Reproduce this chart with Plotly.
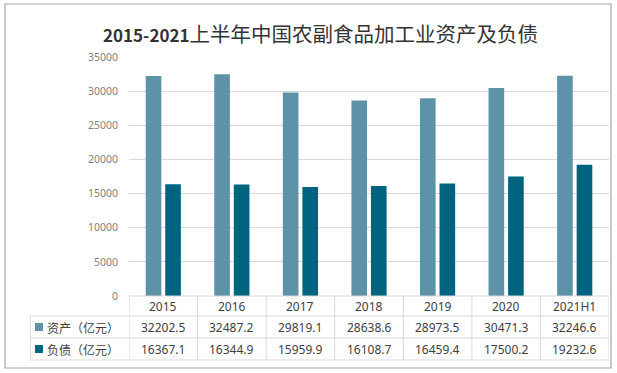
import plotly.graph_objects as go

categories = ["2015", "2016", "2017", "2018", "2019", "2020", "2021H1"]
assets = [32202.5, 32487.2, 29819.1, 28638.6, 28973.5, 30471.3, 32246.6]
liabilities = [16367.1, 16344.9, 15959.9, 16108.7, 16459.4, 17500.2, 19232.6]
series_names = ["资产（亿元）", "负债（亿元）"]
title_years = "2015-2021"
title_rest = "上半年中国农副食品加工业资产及负债"
y_ticks = [0, 5000, 10000, 15000, 20000, 25000, 30000, 35000]

W, H = 617, 373
L, R, T, B = 129, 8, 57, 77
PW, PH = W - L - R, H - T - B
C_ASSET = "#5E92A9"
C_LIAB = "#00637F"
GRID = "#D9D9D9"
TXT = "#404040"


def px_x(px):
    return (px - L) / PW


def px_y(py):
    return (T + PH - py) / PH


fig = go.Figure()
fig.add_trace(go.Bar(x=categories, y=assets, name=series_names[0],
                     marker_color=C_ASSET, marker_line_width=0))
fig.add_trace(go.Bar(x=categories, y=liabilities, name=series_names[1],
                     marker_color=C_LIAB, marker_line_width=0))

shapes = []
# outer frame
shapes.append(dict(type="rect", xref="paper", yref="paper",
                   x0=px_x(5), x1=px_x(611), y0=px_y(368), y1=px_y(4),
                   line=dict(color="#A6A6A6", width=1.2), layer="below"))
# table horizontal lines
for py in [316, 338, 360]:
    shapes.append(dict(type="line", xref="paper", yref="paper",
                       x0=px_x(30.5), x1=px_x(609), y0=px_y(py), y1=px_y(py),
                       line=dict(color=GRID, width=1)))
# header top line (axis)
shapes.append(dict(type="line", xref="paper", yref="paper",
                   x0=0, x1=1, y0=0, y1=0, line=dict(color=GRID, width=1)))
# left column vertical
shapes.append(dict(type="line", xref="paper", yref="paper",
                   x0=px_x(30.5), x1=px_x(30.5), y0=px_y(316), y1=px_y(360),
                   line=dict(color=GRID, width=1)))
# category verticals
n = len(categories)
for k in range(n + 1):
    shapes.append(dict(type="line", xref="x", yref="paper",
                       x0=k - 0.5, x1=k - 0.5, y0=0, y1=px_y(360),
                       line=dict(color=GRID, width=1)))
# legend keys
for py, col in [(327, C_ASSET), (349, C_LIAB)]:
    shapes.append(dict(type="rect", xref="paper", yref="paper",
                       x0=px_x(35), x1=px_x(43), y0=px_y(py + 4), y1=px_y(py - 4),
                       fillcolor=col, line=dict(width=0)))

annotations = []
title_html = (f'<b><span style="font-size:17px">{title_years}</span></b>'
              f'{title_rest}')
annotations.append(dict(text=title_html, xref="paper", yref="paper",
                        x=px_x(320), y=px_y(33), xanchor="center", yanchor="middle",
                        showarrow=False,
                        font=dict(family="Noto Sans CJK SC", size=20.5, color="#333333")))
cell_font = dict(family="Noto Sans, Noto Sans CJK SC", size=12, color=TXT)
for i, c in enumerate(categories):
    annotations.append(dict(text=c, x=i, xref="x", yref="paper", y=px_y(306),
                            showarrow=False, xanchor="center", yanchor="middle",
                            font=cell_font))
for row_y, vals in [(327, assets), (349, liabilities)]:
    for i, v in enumerate(vals):
        annotations.append(dict(text=f"{v:.1f}", x=i, xref="x", yref="paper",
                                y=px_y(row_y), showarrow=False, xanchor="center",
                                yanchor="middle", font=cell_font))
for row_y, name in [(327, series_names[0]), (349, series_names[1])]:
    annotations.append(dict(text=name, xref="paper", yref="paper", x=px_x(45),
                            y=px_y(row_y), showarrow=False, xanchor="left",
                            yanchor="middle",
                            font=dict(family="Noto Sans CJK SC", size=12, color=TXT)))

fig.update_layout(
    width=W, height=H,
    margin=dict(l=L, r=R, t=T, b=B, pad=0, autoexpand=False),
    paper_bgcolor="white", plot_bgcolor="white",
    showlegend=False,
    barmode="group", bargap=0.43, bargroupgap=0.2,
    shapes=shapes, annotations=annotations,
    xaxis=dict(type="category", range=[-0.5, n - 0.5], showticklabels=False,
               showgrid=False, showline=False, zeroline=False, ticks=""),
    yaxis=dict(range=[0, 35000], tickvals=y_ticks, tickformat="d",
               showgrid=True, gridcolor=GRID,
               gridwidth=1, zeroline=False, showline=False, ticks="",
               ticklabelstandoff=10,
               tickfont=dict(family="Noto Sans", size=10.5, color="#7F7F7F")),
)

fig.write_html("out.html", config={"displayModeBar": False},
               post_script="document.body.style.margin='0';document.body.style.overflow='hidden';")
